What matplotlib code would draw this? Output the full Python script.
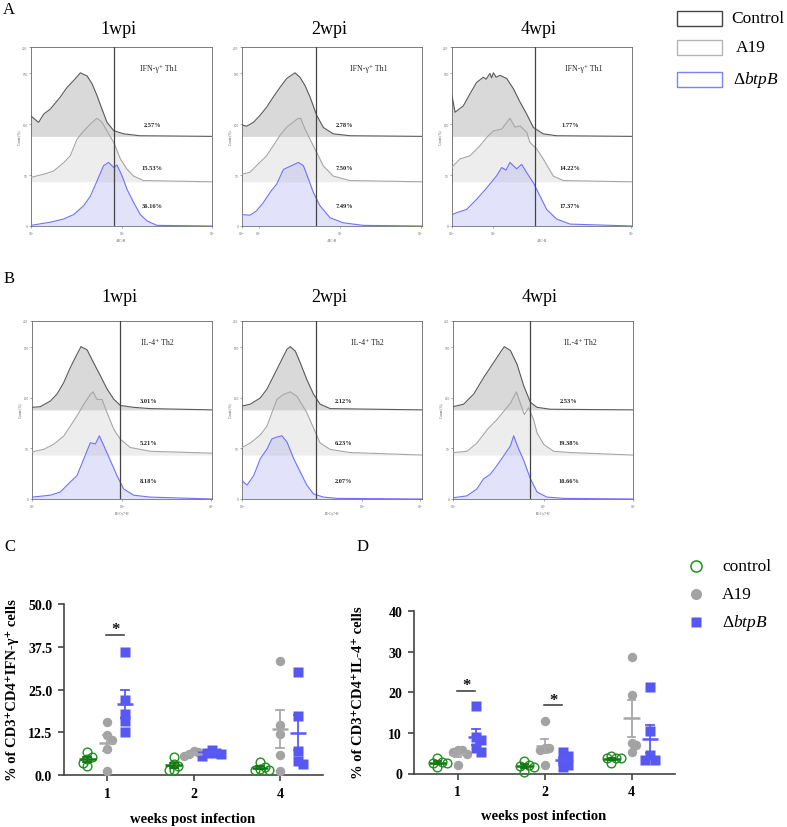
import numpy as np
import matplotlib
matplotlib.use('Agg')
import matplotlib.pyplot as plt
from matplotlib.patches import Rectangle
from matplotlib.lines import Line2D

plt.rcParams['font.family'] = ['Liberation Serif', 'DejaVu Serif']
plt.rcParams['mathtext.fontset'] = 'custom'
plt.rcParams['mathtext.rm'] = 'Liberation Serif'
plt.rcParams['mathtext.it'] = 'Liberation Serif:italic'
plt.rcParams['mathtext.bf'] = 'Liberation Serif:bold'

# ---------------- data: flow histograms (x: channel %, y: % of max) ----------------
ifn_w1_control = [(0,32),(4.2,22),(7,35),(10.7,43),(16.2,62),(19.9,77),(23.6,88),(27.3,100),(31,95),(33.7,83),(36.5,64),(39.2,43),(42,22),(45.7,9),(51.2,4),(60,1),(100,0)]
ifn_w1_a19 = [(0,7),(7,12),(12.5,17),(18,30),(21.7,41),(25.4,67),(29.1,80),(32.8,91),(36.5,100),(39.2,94),(42,80),(45.7,62),(49.4,36),(53,20),(56.7,9),(62.2,2),(100,0)]
ifn_w1_btpb = [(0,1),(10.7,6),(18,11),(23.6,18),(29.1,32),(32.8,47),(36.5,71),(40.1,95),(42.9,100),(45.7,92),(47.5,96),(50.3,79),(53,58),(56.7,37),(60.4,18),(64.1,8),(69.6,1),(100,0)]
ifn_w2_control = [(0,18),(2.6,16),(6.3,22),(10,33),(13.7,46),(17.4,62),(21.1,77),(24.8,91),(29.4,100),(32.2,93),(35,80),(37.8,62),(41.5,33),(45.2,14),(50.7,4),(60,1),(100,0)]
ifn_w2_a19 = [(0,12),(4.4,15),(10,31),(13.7,41),(17.4,57),(21.1,73),(24.8,86),(28.5,94),(30.7,99),(32.6,100),(35,83),(37.8,67),(41.5,46),(45.2,25),(50.7,9),(60,2),(100,0)]
ifn_w2_btpb = [(0,18),(4.4,17),(8.1,24),(11.9,37),(15.6,53),(19.3,66),(23,89),(27.6,95),(31.3,100),(34.1,95),(36.9,74),(39.6,53),(43.3,32),(48.9,13),(56.3,5),(67.4,1),(100,0)]
ifn_w4_control = [(0,64),(1.7,38),(6.3,48),(10,67),(13.7,85),(17.4,93),(19,90),(21.1,99),(22,92),(23,100),(24.5,93),(26.7,96),(30.4,91),(34.1,75),(37.8,54),(41.5,35),(45.2,14),(50.7,4),(58.1,1),(100,0)]
ifn_w4_a19 = [(0,23),(4.4,36),(10,41),(15.6,57),(19.3,70),(23,80),(27.6,83),(32.2,100),(35,86),(37.8,88),(41.5,78),(43.3,62),(47,52),(50.7,36),(56.3,9),(61.9,2),(100,0)]
ifn_w4_btpb = [(0,18),(2.6,21),(8.1,26),(13.7,42),(19.3,60),(24.8,79),(27.6,92),(30,88),(32.2,100),(35.9,90),(38.7,97),(41.5,84),(45.2,68),(48.9,47),(52.6,26),(58.1,11),(65.6,3),(100,0)]

il4_w1_control = [(0,4),(4.6,5),(10.2,14),(13.9,25),(17.6,43),(21.3,67),(25,88),(27.2,100),(30.6,95),(34.3,74),(38,54),(41.7,33),(45.4,17),(49.1,7),(56.5,4),(65.7,2),(100,0)]
il4_w1_a19 = [(0,5),(6.5,9),(12,17),(17.6,30),(21.3,46),(25,62),(28.7,80),(32.4,96),(33.9,100),(36.1,88),(38.9,88),(41.7,67),(45.4,41),(49.1,25),(54.6,12),(65.7,6),(100,3)]
il4_w1_btpb = [(0,3),(10.2,6),(15.7,11),(21.3,27),(25,37),(28.7,63),(32.4,89),(35.2,87),(37.4,100),(39.8,85),(43.5,61),(47.2,37),(50.9,16),(56.5,6),(65.7,3),(100,0)]
il4_w2_control = [(0,6),(4.6,9),(10.2,19),(13.9,33),(17.6,54),(21.3,75),(25,96),(26.8,100),(29.6,93),(32.3,75),(36,48),(39.7,25),(43.4,9),(49,2),(100,0)]
il4_w2_a19 = [(0,12),(4.6,19),(10.2,32),(13.9,46),(16.6,67),(19.4,88),(23.1,96),(26.8,100),(30.5,93),(33.3,80),(36,67),(39.7,43),(43.4,19),(49,9),(60,4),(100,0)]
il4_w2_btpb = [(0,29),(2.8,22),(6.5,37),(10.2,64),(13.9,79),(16.6,95),(19.4,98),(22.2,100),(25,90),(28.7,64),(32.3,43),(36,22),(39.7,8),(45.3,3),(52.7,1),(100,0)]
il4_w4_control = [(0,5),(5.9,9),(11.5,25),(17,51),(22.6,75),(26.3,91),(28.5,100),(31.9,94),(35.6,72),(39.3,38),(43,12),(46.7,4),(54.1,1),(100,0)]
il4_w4_a19 = [(0,4),(7.8,6),(13.3,19),(18.9,40),(24.4,56),(28.1,69),(31.9,82),(35.2,100),(37.4,82),(39.6,64),(42,75),(44.8,56),(46.7,35),(50.4,17),(55.9,6),(65.2,4),(100,0)]
il4_w4_btpb = [(0,2),(7.8,5),(13.3,16),(17,32),(20.7,39),(24.4,53),(28.1,68),(31.9,84),(33.7,100),(36.5,79),(39.3,61),(43,32),(46.7,11),(52.2,3),(61.5,1),(100,0)]

ifn_gates = [46.0, 41.1, 45.9]
il4_gates = [48.7, 41.2, 42.6]
ifn_pcts = [["2.57%", "15.53%", "36.16%"], ["2.78%", "7.50%", "7.49%"], ["1.77%", "14.22%", "17.37%"]]
il4_pcts = [["3.01%", "5.21%", "8.18%"], ["2.12%", "6.23%", "2.07%"], ["2.53%", "19.38%", "10.66%"]]
wpi_titles = ["1wpi", "2wpi", "4wpi"]

# ---------------- data: scatter panels ----------------
weeks = ["1", "2", "4"]
groups = ["control", "A19", "ΔbtpB"]
ifn_control = [[5.3, 6.7, 2.5, 3.6, 4.6], [5.3, 3.2, 2.7, 1.4, 1.5], [3.7, 2.3, 1.7, 1.5, 1.4]]
ifn_a19 = [[15.4, 11.7, 10.3, 7.6, 1.3], [7.1, 6.6, 6.2, 5.8, 5.6], [33.3, 14.7, 12.0, 5.9, 1.2]]
ifn_btpb = [[36.1, 22.0, 17.8, 15.9, 12.7], [7.2, 6.4, 6.3, 6.2, 5.6], [30.2, 17.3, 6.9, 3.1, 4.2]]
il4_control = [[3.8, 2.9, 2.6, 2.5, 1.6], [3.0, 2.0, 1.9, 1.7, 0.4], [4.2, 3.9, 3.8, 3.7, 2.7]]
il4_a19 = [[5.9, 5.7, 5.4, 4.8, 2.1], [13.0, 6.4, 6.3, 5.9, 2.1], [28.6, 19.3, 7.5, 7.0, 5.4]]
il4_btpb = [[16.6, 9.0, 8.2, 6.2, 5.2], [5.2, 4.3, 3.1, 2.1, 1.6], [21.2, 10.5, 4.6, 3.3, 3.3]]
ifn_sig_weeks = [0]
il4_sig_weeks = [0, 1]

# ---------------- figure ----------------
W, H = 787, 828
fig = plt.figure(figsize=(W / 100, H / 100), dpi=100)


def rect(l, t, r, b):
    return [l / W, 1 - b / H, (r - l) / W, (b - t) / H]


def fx(x):
    return x / W


def fy(y):
    return 1 - y / H


HIST_TOP = 281.6
OFFSETS = [141.0, 69.5, 0.0]
LINE_COLS = ['#5a5a5a', '#a6a6a6', '#7070ff']
FILL_COLS = ['#d9d9d9', '#c4c4c4', '#a8a8f0']
FILL_ALPHA = [1.0, 0.3, 0.33]


def draw_hist(ax, curves, gate, label, pcts, lab_x, pct_x, pct_y, xticks, xticklabels, xlabel):
    for i, c in enumerate(curves):
        arr = np.array(c, dtype=float)
        x, y = arr[:, 0], arr[:, 1]
        off = OFFSETS[i]
        ax.fill_between(x, off, off + y, color=FILL_COLS[i], alpha=FILL_ALPHA[i], lw=0, zorder=1 + i)
        ax.plot(x, off + y, color=LINE_COLS[i], lw=0.8, zorder=5 + i)
    ax.axvline(gate, color='#444444', lw=0.9, zorder=9)
    ax.set_xlim(0, 100)
    ax.set_ylim(0, HIST_TOP)
    for s in ax.spines.values():
        s.set_color('#666666')
        s.set_linewidth(0.6)
    ax.set_yticks([0, 80, 160, 240, HIST_TOP])
    ax.set_yticklabels(['0', '50', '100', '150', '200'])
    ax.set_xticks(xticks)
    ax.set_xticklabels(xticklabels)
    ax.tick_params(length=1.5, width=0.4, labelsize=2.5, pad=1, colors='#666666')
    ax.set_ylabel('Count (%)', fontsize=2.5, labelpad=1, color='#555555')
    ax.set_xlabel(xlabel, fontsize=2.5, labelpad=1, color='#555555')
    ax.text(lab_x, 0.88, label, transform=ax.transAxes, fontsize=5.7, ha='center', va='center',
            color='#222222', zorder=10)
    for p, py in zip(pcts, pct_y):
        ax.text(pct_x, py, p, transform=ax.transAxes, fontsize=4.6, fontweight='bold',
                ha='center', va='center', color='#222222', zorder=10)


# ---- Panel A ----
ifn_curves = [[ifn_w1_control, ifn_w1_a19, ifn_w1_btpb],
              [ifn_w2_control, ifn_w2_a19, ifn_w2_btpb],
              [ifn_w4_control, ifn_w4_a19, ifn_w4_btpb]]
il4_curves = [[il4_w1_control, il4_w1_a19, il4_w1_btpb],
              [il4_w2_control, il4_w2_a19, il4_w2_btpb],
              [il4_w4_control, il4_w4_a19, il4_w4_btpb]]

a_boxes = [(31, 48, 212, 227), (242, 48, 422, 227), (452, 48, 632, 227)]
b_boxes = [(32, 322, 212, 500), (242, 322, 422, 500), (453, 322, 633, 500)]
a_lab_x = [0.705, 0.707, 0.733]
a_pct_x = [0.67, 0.57, 0.656]
b_lab_x = [0.694, 0.697, 0.707]
b_pct_x = [0.648, 0.564, 0.643]
a_xticks = [([0, 50.3, 100], ['10$^2$', '10$^3$', '10$^4$']),
            ([0, 9.3, 54.4, 99.3], ['10$^{-1}$', '10$^1$', '10$^3$', '10$^4$']),
            ([0, 23, 99.6], ['10$^{-1}$', '10$^2$', '10$^4$'])]
b_xticks = [([0, 50, 99.4], ['10$^2$', '10$^4$', '10$^5$']),
            ([0, 66.9, 98.9], ['10$^2$', '10$^4$', '10$^5$']),
            ([0, 50.4, 100], ['10$^2$', '10$^4$', '10$^5$'])]

for i in range(3):
    ax = fig.add_axes(rect(*a_boxes[i]))
    draw_hist(ax, ifn_curves[i], ifn_gates[i], 'IFN-γ⁺ Th1', ifn_pcts[i], a_lab_x[i], a_pct_x[i],
              [0.566, 0.327, 0.112], a_xticks[i][0], a_xticks[i][1], 'APC-H')
    cx = (a_boxes[i][0] + a_boxes[i][2]) / 2 - 3
    fig.text(fx(cx), fy(30), wpi_titles[i], fontsize=13, ha='center', va='center')

for i in range(3):
    ax = fig.add_axes(rect(*b_boxes[i]))
    draw_hist(ax, il4_curves[i], il4_gates[i], 'IL-4⁺ Th2', il4_pcts[i], b_lab_x[i], b_pct_x[i],
              [0.555, 0.318, 0.102], b_xticks[i][0], b_xticks[i][1], 'PE-Cy7-H')
    cx = (b_boxes[i][0] + b_boxes[i][2]) / 2 - 3
    fig.text(fx(cx), fy(297), wpi_titles[i], fontsize=13, ha='center', va='center')

# panel letters
for letter, (px, py) in zip("ABCD", [(9, 10), (9, 279), (10, 547), (363, 547)]):
    fig.text(fx(px), fy(py), letter, fontsize=12, ha='center', va='center')

# top legend
leg_rows = [("Control", 19, 731, '#444444'), ("A19", 48, 736, '#b5b5b5'), (r"Δ$\mathit{btpB}$", 80.5, 733, '#8080ff')]
for txt, yc, tx, ec in leg_rows:
    fig.add_artist(Rectangle((fx(677), fy(yc + 7.5)), (722 - 677) / W, 15 / H, transform=fig.transFigure,
                             facecolor='white', edgecolor=ec, lw=1.0))
    fig.text(fx(tx), fy(yc), txt, fontsize=12.5, ha='left', va='center')

# ---------------- scatter panels ----------------
S_OFF = [-0.23, 0.0, 0.21]
S_COLS = ['#1f8f1f', '#a3a3a3', '#5757f2']
MEAN_COLS = ['#117711', '#a8a8a8', '#5a5af5']


def swarm(vals, ythr, dx):
    order = np.argsort(vals)[::-1]
    placed = []
    offs = np.zeros(len(vals))
    for idx in order:
        v = vals[idx]
        k = 0
        cands = [0.0]
        for j in range(1, 6):
            cands += [j * dx, -j * dx]
        for c in cands:
            if all(not (abs(v - pv) < ythr and abs(c - po) < dx * 0.9) for pv, po in placed):
                offs[idx] = c
                placed.append((v, c))
                break
    return offs


def draw_scatter(ax, series, ymax, yticks, ytl, sig_weeks, ythr):
    x0 = np.arange(len(weeks))
    for si, data in enumerate(series):
        for wi, vals in enumerate(data):
            vals = np.array(vals)
            offs = swarm(vals, ythr, 0.055)
            xs = x0[wi] + S_OFF[si] + offs
            if si == 0:
                ax.plot(xs, vals, 'o', ms=6.3, mfc='none', mec=S_COLS[0], mew=1.0, zorder=3, clip_on=False)
            elif si == 1:
                ax.plot(xs, vals, 'o', ms=6.8, mfc=S_COLS[1], mec='none', zorder=3, clip_on=False)
            else:
                ax.plot(xs, vals, 's', ms=6.5, mfc=S_COLS[2], mec='none', zorder=3, clip_on=False)
            m = vals.mean()
            sem = vals.std(ddof=1) / np.sqrt(len(vals))
            xc = x0[wi] + S_OFF[si]
            ax.plot([xc - 0.095, xc + 0.095], [m, m], color=MEAN_COLS[si], lw=1.8, zorder=5, solid_capstyle='butt')
            ax.plot([xc, xc], [m - sem, m + sem], color=MEAN_COLS[si], lw=1.3, zorder=5)
            for yy in (m - sem, m + sem):
                ax.plot([xc - 0.045, xc + 0.045], [yy, yy], color=MEAN_COLS[si], lw=1.3, zorder=5)
    for wi in sig_weeks:
        top = max(max(series[1][wi]), max(series[2][wi])) + 0.095 * ymax
        ax.plot([x0[wi] - 0.01, x0[wi] + 0.2], [top, top], color='#333333', lw=1.1)
        ax.text(x0[wi] + 0.1, top + 0.035 * ymax, '*', fontsize=12, fontweight='bold',
                ha='center', va='center', color='#111111')
    ax.set_xlim(-0.5, 2.5)
    ax.set_ylim(0, ymax)
    ax.set_xticks(x0)
    ax.set_xticklabels(weeks)
    ax.set_yticks(yticks)
    ax.set_yticklabels(ytl)
    for s in ['top', 'right']:
        ax.spines[s].set_visible(False)
    for s in ['left', 'bottom']:
        ax.spines[s].set_color('#444444')
        ax.spines[s].set_linewidth(1.2)
    ax.tick_params(length=4.5, width=1.2, color='#444444', labelsize=10, pad=4)
    for t in ax.get_xticklabels() + ax.get_yticklabels():
        t.set_fontweight('bold')


axC = fig.add_axes(rect(64, 605, 323, 776))
draw_scatter(axC, [ifn_control, ifn_a19, ifn_btpb], 50, [0, 12.5, 25, 37.5, 50],
             ['0.0', '12.5', '25.0', '37.5', '50.0'], ifn_sig_weeks, 1.7)
axD = fig.add_axes(rect(414, 612, 675, 774.5))
draw_scatter(axD, [il4_control, il4_a19, il4_btpb], 40, [0, 10, 20, 30, 40],
             ['0', '10', '20', '30', '40'], il4_sig_weeks, 1.4)

fig.text(fx(12), fy(690), '% of CD3⁺CD4⁺IFN-γ⁺ cells', rotation=90, fontsize=10.5, fontweight='bold',
         ha='center', va='center')
fig.text(fx(359), fy(693), '% of CD3⁺CD4⁺IL-4⁺ cells', rotation=90, fontsize=10.5, fontweight='bold',
         ha='center', va='center')
fig.text(fx(193), fy(820), 'weeks post infection', fontsize=10.5, fontweight='bold', ha='center', va='center')
fig.text(fx(544), fy(816.5), 'weeks post infection', fontsize=10.5, fontweight='bold', ha='center', va='center')

# bottom legend
fig.add_artist(Line2D([fx(695.7)], [fy(567)], marker='o', ms=8, mfc='none', mec=S_COLS[0], mew=1.1,
                      transform=fig.transFigure))
fig.add_artist(Line2D([fx(695.7)], [fy(595)], marker='o', ms=8, mfc=S_COLS[1], mec='none',
                      transform=fig.transFigure))
fig.add_artist(Line2D([fx(695.7)], [fy(622.7)], marker='s', ms=7.5, mfc=S_COLS[2], mec='none',
                      transform=fig.transFigure))
for txt, yc in zip(["control", "A19", r"Δ$\mathit{btpB}$"], [567, 595, 622.7]):
    fig.text(fx(722), fy(yc), txt, fontsize=12.5, ha='left', va='center')

fig.savefig('out.png', dpi=100)
